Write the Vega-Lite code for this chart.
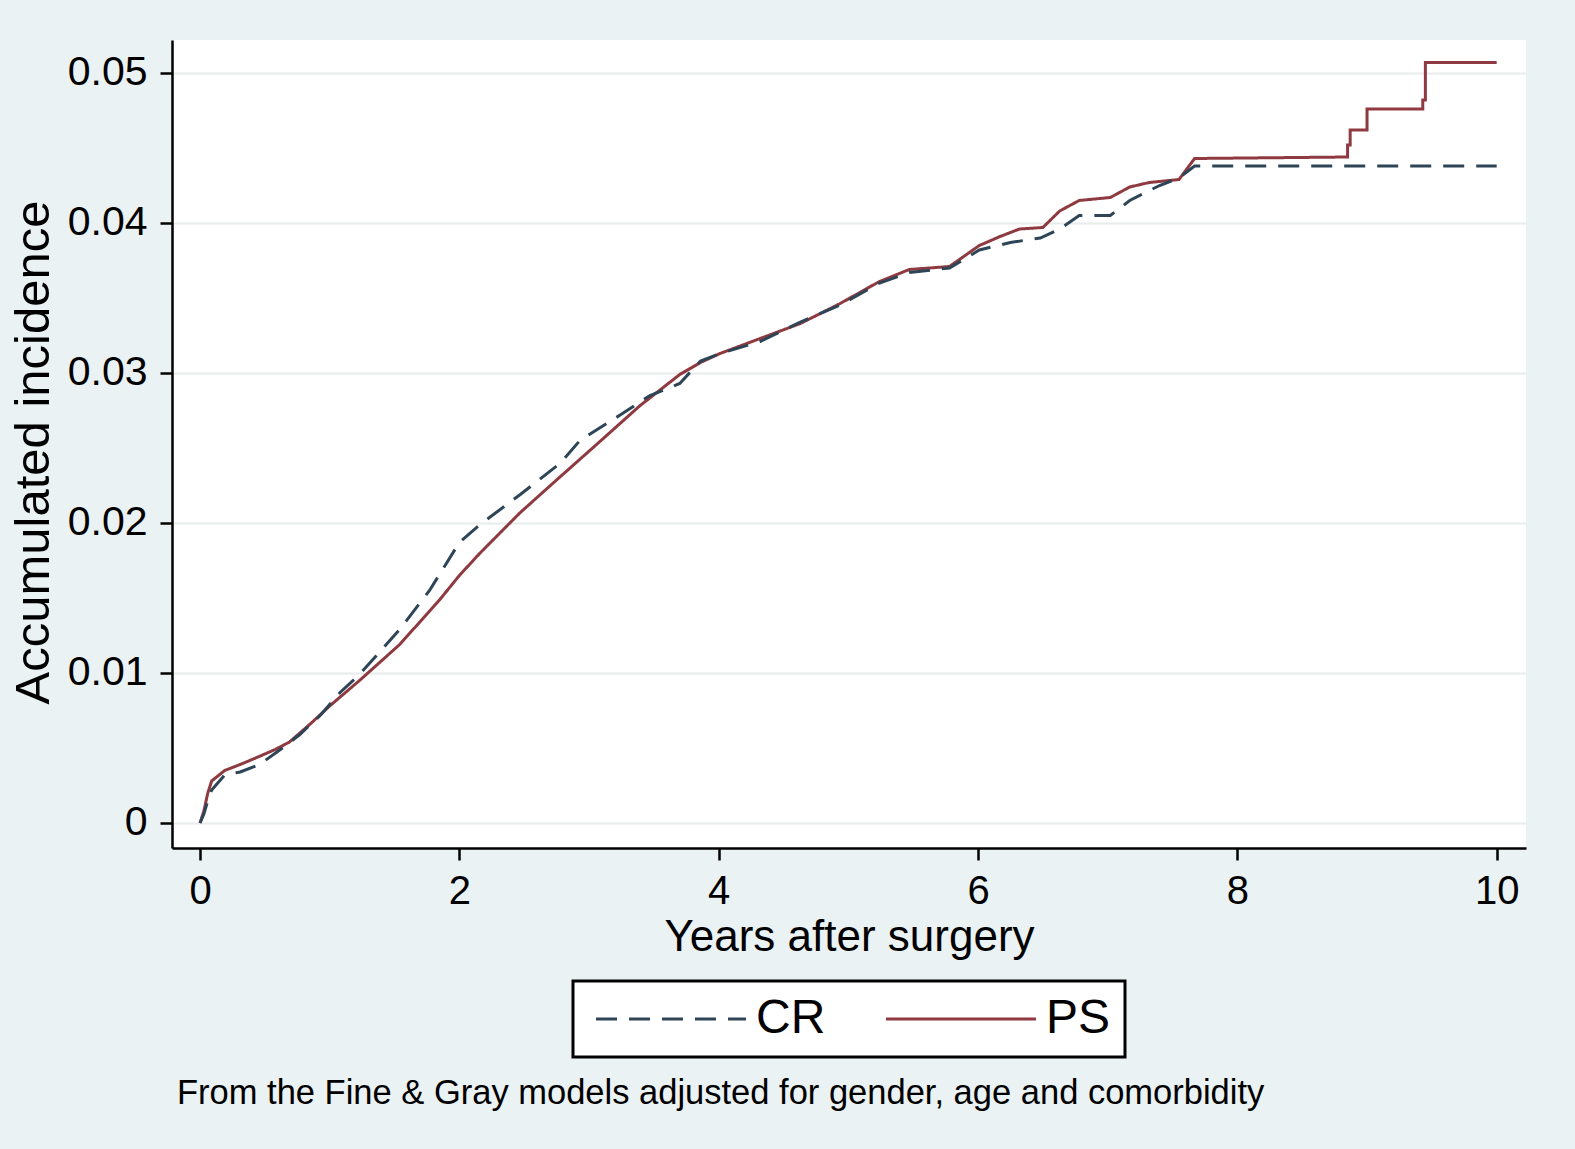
{
  "$schema": "https://vega.github.io/schema/vega-lite/v6.json",
  "autosize": {"type": "none"},
  "width": 1354,
  "height": 808,
  "padding": {"left": 172, "top": 40, "right": 49, "bottom": 301},
  "background": "#EAF2F3",
  "title": {
    "text": "From the Fine & Gray models adjusted for gender, age and comorbidity",
    "orient": "bottom",
    "anchor": "start",
    "frame": "group",
    "font": "Liberation Sans",
    "fontSize": 34.5,
    "fontWeight": "normal",
    "color": "#000000",
    "offset": 18,
    "dx": 5
  },
  "config": {
    "font": "Liberation Sans",
    "view": {"fill": "white", "stroke": null},
    "legend": {"strokeWidth": 3}
  },
  "data": {
    "values": [
      {"g": "PS", "i": 0, "t": 0, "v": 0},
      {"g": "PS", "i": 1, "t": 0.03, "v": 0.0008},
      {"g": "PS", "i": 2, "t": 0.06, "v": 0.0020},
      {"g": "PS", "i": 3, "t": 0.09, "v": 0.0028},
      {"g": "PS", "i": 4, "t": 0.19, "v": 0.0035},
      {"g": "PS", "i": 5, "t": 0.31, "v": 0.0039},
      {"g": "PS", "i": 6, "t": 0.42, "v": 0.0043},
      {"g": "PS", "i": 7, "t": 0.58, "v": 0.0049},
      {"g": "PS", "i": 8, "t": 0.69, "v": 0.0054},
      {"g": "PS", "i": 9, "t": 0.85, "v": 0.0066},
      {"g": "PS", "i": 10, "t": 1.0, "v": 0.0078},
      {"g": "PS", "i": 11, "t": 1.23, "v": 0.0095},
      {"g": "PS", "i": 12, "t": 1.54, "v": 0.0119},
      {"g": "PS", "i": 13, "t": 1.85, "v": 0.0149},
      {"g": "PS", "i": 14, "t": 2.0, "v": 0.0165},
      {"g": "PS", "i": 15, "t": 2.16, "v": 0.0180},
      {"g": "PS", "i": 16, "t": 2.47, "v": 0.0207},
      {"g": "PS", "i": 17, "t": 2.78, "v": 0.0231},
      {"g": "PS", "i": 18, "t": 3.08, "v": 0.0254},
      {"g": "PS", "i": 19, "t": 3.39, "v": 0.0278},
      {"g": "PS", "i": 20, "t": 3.70, "v": 0.0299},
      {"g": "PS", "i": 21, "t": 3.86, "v": 0.0307},
      {"g": "PS", "i": 22, "t": 4.01, "v": 0.0313},
      {"g": "PS", "i": 23, "t": 4.32, "v": 0.0323},
      {"g": "PS", "i": 24, "t": 4.63, "v": 0.0333},
      {"g": "PS", "i": 25, "t": 4.93, "v": 0.0346},
      {"g": "PS", "i": 26, "t": 5.24, "v": 0.0361},
      {"g": "PS", "i": 27, "t": 5.47, "v": 0.0369},
      {"g": "PS", "i": 28, "t": 5.78, "v": 0.0371},
      {"g": "PS", "i": 29, "t": 6.01, "v": 0.0385},
      {"g": "PS", "i": 30, "t": 6.17, "v": 0.0391},
      {"g": "PS", "i": 31, "t": 6.32, "v": 0.0396},
      {"g": "PS", "i": 32, "t": 6.50, "v": 0.0397},
      {"g": "PS", "i": 33, "t": 6.63, "v": 0.0408},
      {"g": "PS", "i": 34, "t": 6.78, "v": 0.0415},
      {"g": "PS", "i": 35, "t": 7.02, "v": 0.0417},
      {"g": "PS", "i": 36, "t": 7.17, "v": 0.0424},
      {"g": "PS", "i": 37, "t": 7.32, "v": 0.0427},
      {"g": "PS", "i": 38, "t": 7.55, "v": 0.0429},
      {"g": "PS", "i": 39, "t": 7.67, "v": 0.0443},
      {"g": "PS", "i": 40, "t": 8.85, "v": 0.0444},
      {"g": "PS", "i": 41, "t": 8.85, "v": 0.0452},
      {"g": "PS", "i": 42, "t": 8.87, "v": 0.0452},
      {"g": "PS", "i": 43, "t": 8.87, "v": 0.0462},
      {"g": "PS", "i": 44, "t": 9.0, "v": 0.0462},
      {"g": "PS", "i": 45, "t": 9.0, "v": 0.0476},
      {"g": "PS", "i": 46, "t": 9.43, "v": 0.0476},
      {"g": "PS", "i": 47, "t": 9.43, "v": 0.0482},
      {"g": "PS", "i": 48, "t": 9.45, "v": 0.0482},
      {"g": "PS", "i": 49, "t": 9.45, "v": 0.0507},
      {"g": "PS", "i": 50, "t": 10.0, "v": 0.0507},
      {"g": "CR", "i": 0, "t": 0, "v": 0},
      {"g": "CR", "i": 1, "t": 0.03, "v": 0.0006},
      {"g": "CR", "i": 2, "t": 0.06, "v": 0.0015},
      {"g": "CR", "i": 3, "t": 0.09, "v": 0.0022},
      {"g": "CR", "i": 4, "t": 0.19, "v": 0.0032},
      {"g": "CR", "i": 5, "t": 0.31, "v": 0.0034},
      {"g": "CR", "i": 6, "t": 0.46, "v": 0.0039},
      {"g": "CR", "i": 7, "t": 0.62, "v": 0.0049},
      {"g": "CR", "i": 8, "t": 0.77, "v": 0.0059},
      {"g": "CR", "i": 9, "t": 0.93, "v": 0.0072},
      {"g": "CR", "i": 10, "t": 1.08, "v": 0.0087},
      {"g": "CR", "i": 11, "t": 1.23, "v": 0.0099},
      {"g": "CR", "i": 12, "t": 1.54, "v": 0.0129},
      {"g": "CR", "i": 13, "t": 1.77, "v": 0.0155},
      {"g": "CR", "i": 14, "t": 2.0, "v": 0.0187},
      {"g": "CR", "i": 15, "t": 2.16, "v": 0.0199},
      {"g": "CR", "i": 16, "t": 2.47, "v": 0.0219},
      {"g": "CR", "i": 17, "t": 2.78, "v": 0.0240},
      {"g": "CR", "i": 18, "t": 2.93, "v": 0.0255},
      {"g": "CR", "i": 19, "t": 3.24, "v": 0.0272},
      {"g": "CR", "i": 20, "t": 3.47, "v": 0.0285},
      {"g": "CR", "i": 21, "t": 3.70, "v": 0.0293},
      {"g": "CR", "i": 22, "t": 3.86, "v": 0.0308},
      {"g": "CR", "i": 23, "t": 4.01, "v": 0.0313},
      {"g": "CR", "i": 24, "t": 4.32, "v": 0.0321},
      {"g": "CR", "i": 25, "t": 4.63, "v": 0.0334},
      {"g": "CR", "i": 26, "t": 4.93, "v": 0.0345},
      {"g": "CR", "i": 27, "t": 5.24, "v": 0.0360},
      {"g": "CR", "i": 28, "t": 5.47, "v": 0.0367},
      {"g": "CR", "i": 29, "t": 5.78, "v": 0.0370},
      {"g": "CR", "i": 30, "t": 6.01, "v": 0.0382},
      {"g": "CR", "i": 31, "t": 6.25, "v": 0.0387},
      {"g": "CR", "i": 32, "t": 6.48, "v": 0.0390},
      {"g": "CR", "i": 33, "t": 6.63, "v": 0.0396},
      {"g": "CR", "i": 34, "t": 6.78, "v": 0.0405},
      {"g": "CR", "i": 35, "t": 7.02, "v": 0.0405},
      {"g": "CR", "i": 36, "t": 7.17, "v": 0.0415},
      {"g": "CR", "i": 37, "t": 7.40, "v": 0.0425},
      {"g": "CR", "i": 38, "t": 7.55, "v": 0.0430},
      {"g": "CR", "i": 39, "t": 7.67, "v": 0.0438},
      {"g": "CR", "i": 40, "t": 10.0, "v": 0.0438}
    ]
  },
  "mark": {"type": "line", "strokeWidth": 3, "interpolate": "linear", "clip": true},
  "encoding": {
    "x": {
      "field": "t",
      "type": "quantitative",
      "scale": {"domain": [-0.216, 10.226], "nice": false, "zero": false},
      "axis": {
        "title": "Years after surgery",
        "values": [0, 2, 4, 6, 8, 10],
        "grid": false,
        "domainColor": "#000000",
        "domainWidth": 2.5,
        "tickColor": "#000000",
        "tickWidth": 2.5,
        "tickSize": 12,
        "labelFontSize": 40,
        "labelColor": "#000000",
        "labelPadding": 11,
        "titleFontSize": 44,
        "titleFontWeight": "normal",
        "titleColor": "#000000",
        "titleBaseline": "alphabetic",
        "titleY": 102
      }
    },
    "y": {
      "field": "v",
      "type": "quantitative",
      "scale": {"domain": [-0.001667, 0.0522], "nice": false, "zero": false},
      "axis": {
        "title": "Accumulated incidence",
        "values": [0, 0.01, 0.02, 0.03, 0.04, 0.05],
        "labelExpr": "datum.value == 0 ? '0' : format(datum.value, '.2f')",
        "grid": true,
        "gridColor": "#E8ECEC",
        "gridWidth": 2,
        "domainColor": "#000000",
        "domainWidth": 2.5,
        "tickColor": "#000000",
        "tickWidth": 2.5,
        "tickSize": 12,
        "labelFontSize": 41,
        "labelColor": "#000000",
        "labelPadding": 13,
        "titleFontSize": 49,
        "titleFontWeight": "normal",
        "titleColor": "#000000",
        "titleBaseline": "alphabetic",
        "titleX": -124,
        "titleY": 412
      }
    },
    "color": {
      "field": "g",
      "type": "nominal",
      "scale": {"domain": ["CR", "PS"], "range": ["#2E4557", "#8E3A40"]},
      "legend": {
        "title": null,
        "orient": "none",
        "legendX": 401,
        "legendY": 941,
        "direction": "horizontal",
        "symbolType": "M-1,0H9",
        "symbolSize": 900,
        "symbolStrokeWidth": 3,
        "labelFontSize": 48,
        "labelColor": "#000000",
        "labelOffset": 121,
        "columnPadding": 51,
        "padding": 14,
        "strokeColor": "#000000",
        "fillColor": "#FFFFFF"
      }
    },
    "strokeDash": {
      "field": "g",
      "type": "nominal",
      "scale": {"domain": ["CR", "PS"], "range": [[21, 12], [1, 0]]},
      "legend": {
        "title": null,
        "orient": "none",
        "legendX": 401,
        "legendY": 941,
        "direction": "horizontal",
        "symbolType": "M-1,0H9",
        "symbolSize": 900,
        "symbolStrokeWidth": 3,
        "labelFontSize": 48,
        "labelColor": "#000000",
        "labelOffset": 121,
        "columnPadding": 51,
        "padding": 14,
        "strokeColor": "#000000",
        "fillColor": "#FFFFFF"
      }
    },
    "order": {"field": "i", "type": "quantitative"}
  }
}
